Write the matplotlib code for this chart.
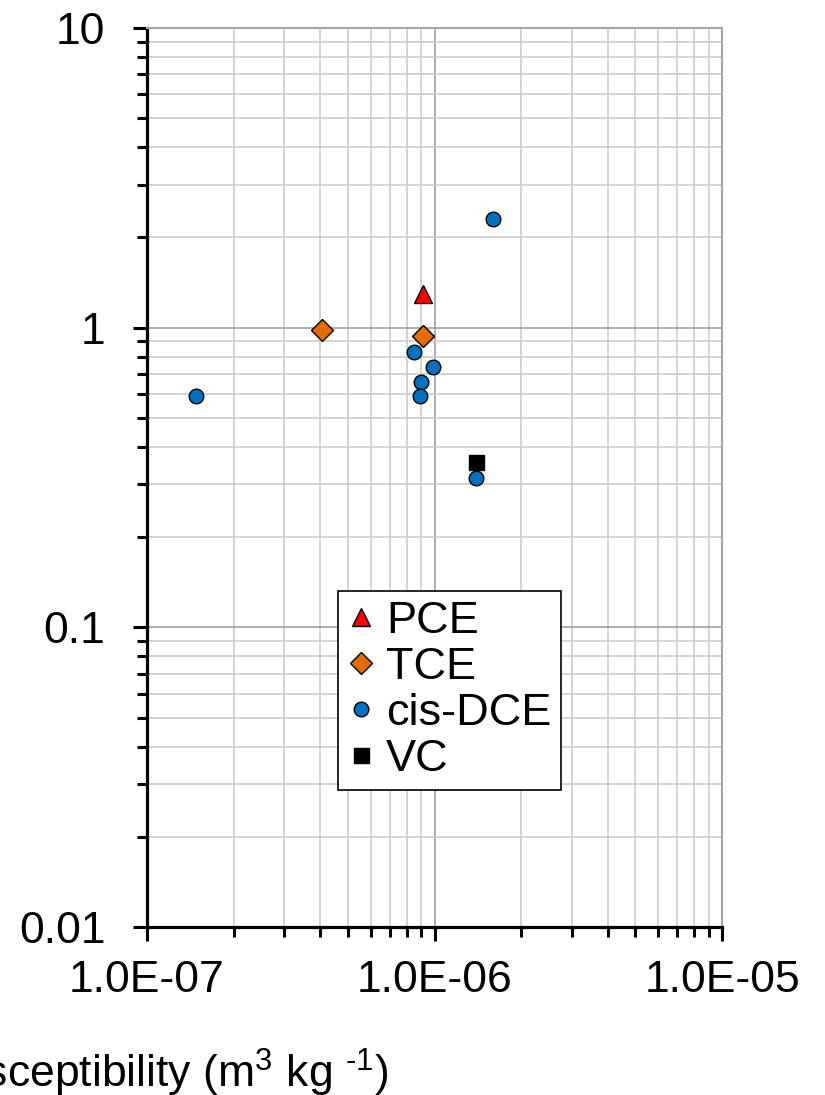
import numpy as np
import matplotlib
matplotlib.use("Agg")
import matplotlib.pyplot as plt
from matplotlib.ticker import LogLocator, FixedLocator, FixedFormatter, NullFormatter

plt.rcParams['font.family'] = ['Liberation Sans', 'DejaVu Sans']
plt.rcParams['mathtext.fontset'] = 'custom'
plt.rcParams['mathtext.rm'] = 'Liberation Sans'
plt.rcParams['mathtext.it'] = 'Liberation Sans'

# data
pce_x = [9.1e-7]
pce_y = [1.30]
tce_x = [4.05e-7, 9.1e-7]
tce_y = [0.98, 0.94]
dce_x = [1.48e-7, 8.5e-7, 9.9e-7, 9.0e-7, 8.9e-7, 1.39e-6, 1.6e-6]
dce_y = [0.59, 0.83, 0.74, 0.66, 0.59, 0.316, 2.31]
vc_x = [1.39e-6]
vc_y = [0.357]

x_ticks = [1e-7, 1e-6, 1e-5]
x_labels = ['1.0E-07', '1.0E-06', '1.0E-05']
y_ticks = [0.01, 0.1, 1, 10]
y_labels = ['0.01', '0.1', '1', '10']

fig = plt.figure(figsize=(8.25, 10.95), dpi=100)
ax = fig.add_axes([147 / 825, 1 - 927 / 1095, 575 / 825, 899 / 1095])
ax.set_xscale('log')
ax.set_yscale('log')
ax.set_xlim(1e-7, 1e-5)
ax.set_ylim(0.01, 10)

ax.xaxis.set_major_locator(FixedLocator(x_ticks))
ax.xaxis.set_major_formatter(FixedFormatter(x_labels))
ax.yaxis.set_major_locator(FixedLocator(y_ticks))
ax.yaxis.set_major_formatter(FixedFormatter(y_labels))
ax.xaxis.set_minor_locator(LogLocator(base=10, subs=np.arange(2, 10)))
ax.yaxis.set_minor_locator(LogLocator(base=10, subs=np.arange(2, 10)))
ax.xaxis.set_minor_formatter(NullFormatter())
ax.yaxis.set_minor_formatter(NullFormatter())

ax.grid(True, which='major', color='#a0a0a0', lw=1.2)
ax.grid(True, which='minor', color='#cccccc', lw=1.2)
ax.set_axisbelow(True)

for s in ['left', 'bottom']:
    ax.spines[s].set_linewidth(2.3)
    ax.spines[s].set_color('black')
for s in ['top', 'right']:
    ax.spines[s].set_linewidth(1.5)
    ax.spines[s].set_color('#a6a6a6')

ax.tick_params(which='major', direction='out', length=10, width=2.2, labelsize=32, color='black')
ax.tick_params(axis='y', which='major', pad=20)
ax.tick_params(axis='x', which='major', pad=14)
ax.tick_params(which='minor', direction='out', length=7, width=2.2, color='black')

mk = dict(ls='none', markeredgecolor='black', markeredgewidth=1.0)
ax.plot(pce_x, pce_y, marker='^', ms=12.5, color='#ff0000', label='PCE', **mk)
ax.plot(tce_x, tce_y, marker='D', ms=10.8, color='#e36c09', label='TCE', **mk)
ax.plot(dce_x, dce_y, marker='o', ms=10.5, color='#0070c0', label='cis-DCE', **mk)
ax.plot(vc_x, vc_y, marker='s', ms=10.8, color='black', label='VC', **mk)

leg = ax.legend(loc='upper left', bbox_to_anchor=(0.3317, 0.374), borderaxespad=0,
                fontsize=32.5, frameon=True, fancybox=False, framealpha=1,
                edgecolor='black', handlelength=0.6, handletextpad=0.25,
                borderpad=0.22, labelspacing=0.11, numpoints=1)
leg.get_frame().set_linewidth(1.2)

fig.text(388 / 825, (1095 - 1088) / 1095,
         r'Magnetic susceptibility (m$^{3}$ kg $^{\text{-1}}$)',
         ha='right', va='baseline', fontsize=32)

fig.savefig('out.png', dpi=100)
